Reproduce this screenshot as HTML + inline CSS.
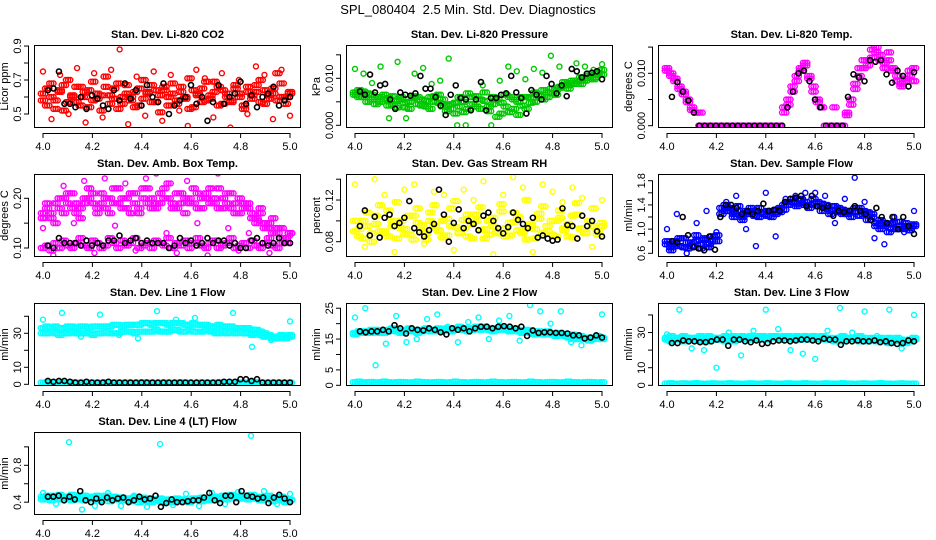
<!DOCTYPE html>
<html><head><meta charset="utf-8"><style>
body{margin:0;background:#fff;}
svg{display:block;font-family:"Liberation Sans",Arial,sans-serif;}
</style></head><body>
<svg id="chart" width="936" height="540" viewBox="0 0 936 540">
<rect width="936" height="540" fill="#fff"/>
<text x="468" y="14" text-anchor="middle" font-size="13">SPL_080404&#160; 2.5 Min. Std. Dev. Diagnostics</text>
</svg>
<script>
const xTicks=[4.0,4.2,4.4,4.6,4.8,5.0];
const xTickLabels=["4.0","4.2","4.4","4.6","4.8","5.0"];

const co2A=[.62,.55,.68,.58,.64,.52,.70,.60,.57,.66,.63,.54,.69,.59,.61,.72,.56,.65,.53,.60,.67,.58,.63,.55,.70,.62,.57,.64,.51,.66,.60,.68,.56,.63,.59,.71,.54,.62,.65,.58,.61,.69,.55,.64,.60,.57,.67,.62,.53,.66,.59,.63,.70,.56,.61,.65,.58,.68,.60,.62];
const co2B=[.58,.65,.60,.53,.63,.67,.57,.61,.66,.55,.60,.64,.58,.62,.52,.66,.61,.59,.68,.56,.62,.60,.54,.65,.59,.63,.67,.57,.61,.64,.55,.62,.58,.66,.60,.53,.64,.61,.57,.69,.59,.63,.66,.56,.62,.58,.65,.60,.55,.63,.61,.67,.57,.64,.59,.62,.74,.60,.56,.63];
const co2C=[.75,.47,.73,.50,.77,.45,.74,.48,.76,.88,.44,.72,.49,.75,.46,.73,.52,.43,.76,.71,.48,.74,.42,.70,.50,.78,.73,.47,.76,.49];
const co2Black=[.64,.65,.75,.56,.56,.54,.60,.53,.61,.59,.55,.53,.64,.58,.68,.59,.64,.55,.67,.60,.57,.68,.50,.55,.58,.60,.67,.56,.60,.46,.57,.67,.56,.60,.62,.69,.56,.61,.54,.60,.62,.66,.55,.58,.60];

const presA=[.007,.0075,.006,.0068,.0055,.006,.005,.0065,.0058,.0045,.0052,.006,.0038,.005,.0062,.0045,.0055,.004,.006,.005,.0065,.004,.003,.0045,.0025,.004,.005,.0035,.006,.004,.0055,.007,.003,.0045,.0055,.0025,.004,.006,.0035,.005,.0042,.006,.0058,.005,.0065,.0055,.007,.0068,.0075,.008,.0085,.0078,.009,.0095,.0088,.01,.0105,.0098,.011,.0108];
const presB=[.0065,.006,.0072,.005,.0065,.0045,.006,.0055,.0042,.0062,.0038,.0055,.0048,.0035,.0058,.006,.0042,.0052,.0035,.0062,.0048,.0055,.0042,.0035,.0048,.006,.0028,.0068,.0045,.0062,.0035,.0052,.004,.006,.0018,.0048,.0065,.0028,.0055,.0022,.006,.0035,.0048,.007,.0062,.0075,.006,.0078,.0065,.0082,.0092,.0085,.0095,.0088,.0102,.0095,.011,.0102,.0112,.0118];
const presC=[.012,.011,.009,.0125,.0015,.0135,.0015,.011,.0122,.0088,.0095,.0142,.0,.0,.0062,.0085,.0,.0095,.0125,.0115,.0098,.012,.0112,.0148,.0125,.009,.0132,.0125,.0118,.013];
const presBlack=[.0072,.0065,.0108,.007,.0085,.0088,.0055,.0035,.007,.0065,.0063,.0068,.0105,.0078,.0078,.006,.0042,.0022,.0065,.0085,.0058,.0055,.0032,.0055,.0092,.0032,.0058,.0058,.0065,.0068,.0105,.007,.0058,.0025,.0075,.0065,.0055,.0105,.0088,.0068,.0085,.0062,.012,.0115,.0102,.011,.0112,.0115,.0098];

const tempA=[.011,.0095,.0085,.0075,.006,.005,.003,.0025,0,0,0,0,0,0,0,0,0,0,0,0,0,0,0,0,0,0,0,0,.0035,.005,.0075,.0095,.011,.012,.0095,.0075,.005,.0035,0,0,0,0,0,.002,.005,.008,.011,.0125,.0115,.013,.015,.0135,.012,.014,.011,.0095,.008,.009,.0105,.0085];
const tempB=[.0105,.01,.009,.007,.0065,.0045,.0035,.0025,.0025,0,0,0,0,0,0,0,0,0,0,0,0,0,0,0,0,0,0,0,.0025,.004,.0065,.0085,.0105,.0115,.009,.0065,.0045,.0035,0,0,.0035,0,0,.0025,.004,.007,.0095,.011,.0125,.0145,.014,.0125,.011,.0125,.0105,.0085,.0075,.0085,.0095,.011];
const tempBlack=[.0055,.0083,.0065,.0048,.0025,0,0,0,0,0,0,0,0,0,0,0,0,0,0,0,0,.0035,.0065,.01,.0105,.0085,.005,.0035,0,0,0,0,.0055,.0098,.0092,.0085,.0125,.0122,.0125,.0098,.0082,.0105,.0095,.0075,.0102];

const ambA=[.17,.18,.16,.19,.20,.17,.21,.18,.19,.16,.20,.22,.19,.18,.21,.20,.17,.19,.22,.20,.18,.21,.19,.17,.20,.22,.18,.19,.21,.20,.23,.19,.18,.21,.20,.19,.22,.18,.20,.21,.19,.20,.22,.18,.19,.21,.17,.20,.19,.18,.17,.16,.18,.15,.14,.16,.13,.14,.12,.13];
const ambB=[.16,.19,.17,.15,.18,.20,.19,.21,.17,.18,.19,.20,.21,.17,.19,.18,.20,.22,.19,.18,.20,.17,.21,.18,.22,.19,.20,.18,.19,.22,.20,.18,.21,.19,.17,.20,.19,.21,.18,.20,.22,.19,.18,.20,.21,.18,.19,.17,.18,.19,.16,.15,.17,.14,.15,.13,.14,.12,.11,.13];
const ambC=[.10,.105,.095,.11,.10,.115,.105,.10,.11,.12,.105,.10,.115,.11,.10,.105,.12,.11,.10,.115,.105,.11,.12,.10,.105,.11,.10,.115,.11,.105,.12,.10,.11,.105,.115,.10,.11,.12,.105,.10,.11,.115,.10,.105,.11,.12,.10,.105,.11,.10,.115,.105,.10,.11,.12,.105,.10,.11,.12,.13];
const ambD=[.14,.085,.225,.15,.235,.09,.24,.145,.23,.095,.24,.25,.13,.09,.235,.15,.085,.25,.14,.095,.13,.155,.09,.14,.125];
const ambBlack=[.105,.10,.12,.11,.11,.11,.105,.115,.105,.11,.105,.115,.115,.125,.11,.115,.12,.11,.115,.11,.11,.11,.10,.105,.12,.11,.115,.105,.11,.12,.11,.115,.115,.105,.11,.10,.10,.115,.12,.11,.105,.11,.12,.11,.11];

const rhA=[.09,.085,.10,.095,.08,.105,.09,.088,.11,.095,.083,.10,.092,.087,.105,.098,.09,.082,.108,.095,.09,.1,.086,.112,.094,.089,.101,.085,.097,.106,.091,.083,.1,.095,.088,.109,.093,.086,.099,.104,.09,.082,.097,.092,.107,.088,.095,.1,.085,.103,.091,.097,.084,.106,.093,.089,.1,.095,.087,.098];
const rhB=[.1,.092,.083,.108,.088,.097,.115,.09,.085,.1,.118,.093,.087,.105,.082,.112,.096,.088,.1,.115,.091,.084,.102,.095,.119,.088,.093,.106,.083,.1,.113,.092,.087,.103,.09,.116,.085,.098,.108,.091,.088,.12,.095,.083,.102,.114,.09,.087,.1,.11,.093,.085,.105,.117,.092,.088,.1,.112,.09,.095];
const rhC=[.135,.075,.14,.125,.07,.13,.135,.078,.128,.125,.072,.13,.12,.138,.068,.125,.142,.132,.07,.135,.128,.118,.132,.122,.075,.12];
const rhBlack=[.095,.11,.086,.104,.084,.103,.106,.095,.098,.103,.119,.093,.089,.085,.091,.097,.13,.106,.08,.098,.111,.093,.1,.097,.091,.105,.108,.1,.093,.088,.094,.108,.101,.097,.093,.103,.084,.086,.083,.081,.082,.112,.096,.095,.083,.105,.095,.1,.09,.085];

const flowA=[.75,.7,.8,.72,.85,.68,.78,.9,.75,.82,.7,.88,.8,1.35,1.4,1.3,1.25,1.38,1.2,1.3,1.28,1.22,1.35,1.25,1.3,1.2,1.32,1.28,1.4,1.45,1.5,1.42,1.48,1.45,1.4,1.5,1.38,1.42,1.35,1.3,1.38,1.28,1.32,1.25,1.3,1.35,1.22,1.3,1.28,1.2,1.1,1.15,1.05,1.08,1.0,1.12,1.05,1.1,1.02,1.05];
const flowB=[.8,.65,.75,.85,.7,.78,.72,.8,.68,.85,.75,.8,.9,1.25,1.3,1.35,1.2,1.3,1.15,1.25,1.35,1.3,1.2,1.28,1.22,1.3,1.25,1.35,1.32,1.4,1.45,1.38,1.5,1.4,1.35,1.42,1.45,1.3,1.4,1.25,1.32,1.35,1.25,1.3,1.2,1.28,1.35,1.25,1.15,1.25,1.05,1.0,1.1,.95,1.1,1.0,1.0,1.05,.98,1.08];
const flowC=[1.0,1.25,.6,1.1,1.3,.95,1.45,1.55,1.0,.72,1.6,.88,1.5,1.55,1.6,1.6,1.55,1.1,1.5,1.85,1.45,.85,.75,1.2,.95,1.3];
const flowBlack=[.8,.78,1.2,.9,.7,.68,.65,.88,.66,1.2,1.4,1.4,1.35,1.25,1.3,1.25,1.3,1.42,1.3,1.32,1.3,1.45,1.5,1.52,1.55,1.38,1.55,1.38,1.35,1.38,1.22,1.3,1.28,1.3,1.38,1.3,1.25,1.15,1.35,1.2,1.1,1.2,1.0,1.2,1.05,.92];

const l1A=[33,34,33,34,33,33,34,34,33,34,34,33,34,34,34,34,34,35,35,34,35,35,35,35,36,36,35,36,36,36,35,36,36,36,35,35,36,35,35,35,34,34,35,34,34,34,33,33,33,33,32,32,31,30,29,28,28,29,28,29];
const l1B=[30,30,31,30,29,30,30,31,30,30,30,30,29,30,30,31,30,30,30,31,31,31,30,31,31,31,31,32,31,31,31,32,32,31,31,32,31,31,31,32,31,31,30,31,30,31,30,31,30,30,29,30,29,28,28,27,27,28,27,28];
const l1Low=[1,1.2,.8,1,1.1,.9,1,1.2,1,.8,1,1.1,1,.9,1,1.2,1,1,.8,1,1.1,1,.9,1,1.2,1,1,.8,1,1.1,1,.9,1,1.2,1,1,.8,1,1.1,1,.9,1,1.2,1,1,.8,1,1.1,1,.9,1,1.2,1,1,.8,1,1.1,1,.9,1];
const l1C=[38,42,28,41,29,27,43,38,39,30,42,22,26,37];
const l1Black=[2,1.5,2,2,1.5,1,1,1.5,1,1,1,1.5,1,1,1,1,1,1,1,1,1,1,1,1,1,1,1,1,1,1,1,1,1.5,1.5,1.5,3,3,2,3,1,1,1,1,1,1];

const l2A=[17,17.5,17,17.5,18,17.5,17,17.5,18,18.5,18,17.5,18,18.5,18,17.5,18,18.5,18,18,18.5,18,18.5,18,18.5,19,18.5,18,18.5,19,18.5,19,18.5,18,18.5,19,18.5,18,18.5,18,17.5,18,17.5,17,17.5,17,17.5,17,16.5,17,16.5,16,16.5,15.5,16,15.5,15,15.5,16,15.5];
const l2B=[16.5,17,17.5,17,17,18,17.5,17,17.5,18,17.5,17,17.5,18,17.5,17,17.5,18,17.5,17.5,18,17.5,18,17.5,18,18.5,18,17.5,18,18.5,18,18.5,18,17.5,18,18.5,18,17.5,18,17.5,17,17.5,17,16.5,17,16.5,17,16.5,16,16.5,16,15.5,15,15,15.5,15,14.5,15,15.5,15];
const l2C=[22,25,6.5,13.5,22.5,14,15,21.5,23,19,14,20.5,22,15,21,22.5,14.5,26,24,20,24,14,13,14.5,23];
const l2Black=[17.5,17.2,17.5,17.5,18,17.5,19.5,18.5,16.8,18.5,18,17.8,18.5,18,17.2,16.5,18.5,18,18.5,17.5,18.5,19,19,18.5,19,19.2,19,18.5,19,16,17.8,17,17.2,17.2,17,17,16.8,16.2,16.2,15.2,15.5,16.2,15.5];

const l3A=[27,28,26,27,28,27,26,27,28,27,28,27,26,27,28,27,28,27,28,27,28,27,28,28,27,28,28,27,28,28,27,28,27,28,27,28,27,28,27,27,26,27,28,27,26,27,28,27,26,27,26,27,26,27,26,27,26,25,26,27];
const l3B=[26,25,27,26,25,26,27,26,25,26,25,26,27,26,25,26,25,26,27,26,26,27,26,27,26,27,27,26,27,27,26,27,26,27,26,27,26,27,26,26,25,26,25,26,27,26,25,26,25,26,25,26,25,24,25,26,25,24,25,26];
const l3C=[29,43,21,20,10,30,17,31,43,32,20,18,15,31,44,30,42,28,43,21,40];
const l3Black=[24,24,25.5,25,25,24.5,24.5,25,26,26,22.5,26,26,25,24.5,25.5,23.5,24,25,25.5,25.5,25,25.5,26,26,25.5,25,26.5,26,26,23,25,25,25.5,25,25,25.5,24.5,25,24,23.5,24,25.5,25];

const l4A=[.46,.44,.47,.45,.43,.46,.44,.48,.45,.43,.47,.44,.46,.42,.45,.47,.44,.46,.43,.45,.42,.44,.46,.43,.45,.41,.43,.42,.44,.41,.43,.42,.44,.43,.41,.42,.44,.43,.45,.42,.44,.46,.43,.47,.45,.48,.46,.44,.47,.45,.48,.44,.46,.43,.47,.45,.43,.46,.44,.42];
const l4B=[.43,.47,.42,.45,.48,.43,.46,.42,.44,.47,.42,.45,.43,.47,.42,.44,.41,.43,.45,.42,.44,.41,.43,.40,.42,.44,.40,.43,.41,.39,.42,.40,.42,.41,.43,.40,.42,.44,.41,.43,.45,.42,.44,.45,.43,.46,.44,.47,.45,.43,.46,.44,.42,.45,.43,.41,.44,.42,.40,.43];
const l4C=[.5,.38,1.05,.32,.36,.5,.36,.47,.35,1.03,.37,.49,.36,.5,.38,.51,1.12,.52,.38,.49];
const l4Black=[.46,.46,.47,.42,.46,.43,.52,.42,.40,.44,.40,.45,.42,.44,.45,.40,.42,.46,.43,.44,.47,.35,.39,.43,.40,.40,.41,.42,.42,.45,.50,.42,.39,.47,.47,.40,.52,.47,.46,.44,.45,.39,.45,.48,.44,.40];

const panels=[
 {name:"co2",title:"Stan. Dev. Li-820 CO2",ylab:"Licor ppm",col:0,row:0,ymin:.4176,ymax:.906,ticks:[.5,.6,.7,.8,.9],labs:{".5":"0.5",".7":"0.7",".9":"0.9"},color:"#ff0000",series:[co2A,co2B],sparse:[co2C],black:co2Black},
 {name:"pressure",title:"Stan. Dev. Li-820 Pressure",ylab:"kPa",col:1,row:0,ymin:-.000574,ymax:.01709,ticks:[0,.005,.01,.015],labs:{"0":"0.000",".01":"0.010"},color:"#00c800",series:[presA,presB],sparse:[presC],black:presBlack},
 {name:"li820-temp",title:"Stan. Dev. Li-820 Temp.",ylab:"degrees C",col:2,row:0,ymin:-.00044,ymax:.0154,ticks:[0,.005,.01,.015],labs:{"0":"0.000",".01":"0.010"},color:"#ff00ff",series:[tempA,tempB],sparse:[],black:tempBlack},
 {name:"amb-temp",title:"Stan. Dev. Amb. Box Temp.",ylab:"degrees C",col:0,row:1,ymin:.0819,ymax:.2489,ticks:[.1,.15,.2],labs:{".1":"0.10",".2":"0.20"},color:"#ff00ff",series:[ambA,ambB,ambC],sparse:[ambD],black:ambBlack},
 {name:"gas-rh",title:"Stan. Dev. Gas Stream RH",ylab:"percent",col:1,row:1,ymin:.0653,ymax:.145,ticks:[.08,.1,.12,.14],labs:{".08":"0.08",".12":"0.12"},color:"#ffff00",series:[rhA,rhB],sparse:[rhC],black:rhBlack},
 {name:"sample-flow",title:"Stan. Dev. Sample Flow",ylab:"ml/min",col:2,row:1,ymin:.539,ymax:1.911,ticks:[.6,.8,1,1.2,1.4,1.6,1.8],labs:{".6":"0.6","1":"1.0","1.4":"1.4","1.8":"1.8"},color:"#0000ff",series:[flowA,flowB],sparse:[flowC],black:flowBlack},
 {name:"line1-flow",title:"Stan. Dev. Line 1 Flow",ylab:"ml/min",col:0,row:2,ymin:-1,ymax:47.8,ticks:[0,10,20,30,40],labs:{"0":"0","10":"10","30":"30"},color:"#00ffff",series:[l1A,l1B,l1Low],sparse:[l1C],black:l1Black},
 {name:"line2-flow",title:"Stan. Dev. Line 2 Flow",ylab:"ml/min",col:1,row:2,ymin:-.23,ymax:26.7,ticks:[0,5,10,15,20,25],labs:{"0":"0","5":"5","15":"15","25":"25"},color:"#00ffff",series:[l2A,l2B,l1Low],sparse:[l2C],black:l2Black},
 {name:"line3-flow",title:"Stan. Dev. Line 3 Flow",ylab:"ml/min",col:2,row:2,ymin:-.4,ymax:46.8,ticks:[0,10,20,30,40],labs:{"0":"0","10":"10","30":"30"},color:"#00ffff",series:[l3A,l3B,l1Low],sparse:[l3C],black:l3Black},
 {name:"line4-flow",title:"Stan. Dev. Line 4 (LT) Flow",ylab:"ml/min",col:0,row:3,ymin:.261,ymax:1.161,ticks:[.4,.6,.8,1.0],labs:{".4":"0.4",".8":"0.8"},color:"#00ffff",series:[l4A,l4B],sparse:[l4C],black:l4Black}
];

const NS="http://www.w3.org/2000/svg";
const svg=document.getElementById('chart');
function mk(tag,attrs,parent){const e=document.createElementNS(NS,tag);for(const k in attrs)e.setAttribute(k,attrs[k]);(parent||svg).appendChild(e);return e;}
const XMIN=3.9636,XMAX=5.0445;
function fmtKey(v){let s=String(v);if(s.startsWith("0.")&&v!==0)s=s.slice(1);return s;}

panels.forEach(p=>{
  const L=34+312*p.col,R=301+312*p.col,T=45+129*p.row,B=128+129*p.row;
  const sx=v=>L+(v-XMIN)/(XMAX-XMIN)*(R-L);
  const sy=v=>B-(v-p.ymin)/(p.ymax-p.ymin)*(B-T);
  const g=mk('g',{});
  
  
  const t=mk('text',{x:(L+R)/2,y:T-7,'text-anchor':'middle','font-size':'11','font-weight':'bold'},g);
  t.textContent=p.title;
  
  
  const clip=mk('clipPath',{id:'c'+p.name},g);
  mk('rect',{x:L,y:T,width:R-L,height:B-T},clip);
  const pts=mk('g',{'clip-path':'url(#c'+p.name+')',fill:'none','stroke-width':'1.4'},g);
  
  
  // dense series: each marker drawn as a small horizontal cluster to mimic overplotting
  p.series.forEach(arr=>{
    const n=arr.length;
    arr.forEach((v,i)=>{
      const cx=sx(4+i/(n-1)),cy=sy(v);
      [-2.2,0,2.2].forEach(dx=>{
        const c=mk('circle',{cx:cx+dx,cy:cy,r:2.5,stroke:p.color},pts);
        
        
      });
    });
  });
  p.sparse.forEach(arr=>{
    const n=arr.length;
    arr.forEach((v,i)=>{
      const c=mk('circle',{cx:sx(4+i/(n-1)),cy:sy(v),r:2.5,stroke:p.color},pts);
      
      
    });
  });
  const nb=p.black.length;
  p.black.forEach((v,i)=>{
    const c=mk('circle',{cx:sx(4.02+0.98*i/(nb-1)),cy:sy(v),r:2.5,stroke:'#000','stroke-width':'1.6'},pts);
    
    
  });
  const box=mk('rect',{x:L+.5,y:T+.5,width:R-L-1,height:B-T-1,fill:'none',stroke:'#000','stroke-width':'1'},g);
  
  
  mk('line',{x1:sx(xTicks[0]),x2:sx(xTicks[xTicks.length-1]),y1:B+5.5,y2:B+5.5,stroke:'#000'},g);
  xTicks.forEach((v,i)=>{
    mk('line',{x1:sx(v),x2:sx(v),y1:B+5,y2:B+10,stroke:'#000'},g);
    const tl=mk('text',{x:sx(v),y:B+22,'text-anchor':'middle','font-size':'11'},g);
    tl.textContent=xTickLabels[i];
    
    
  });
  const yl=L-5.5;
  mk('line',{x1:yl,x2:yl,y1:sy(p.ticks[0]),y2:sy(p.ticks[p.ticks.length-1]),stroke:'#000'},g);
  p.ticks.forEach(v=>{
    const y=sy(v);
    if(y<T-1||y>B+1)return;
    mk('line',{x1:L-10,x2:L-5,y1:y,y2:y,stroke:'#000'},g);
    const lab=p.labs[fmtKey(v)];
    if(lab){
      const tl=mk('text',{x:L-13,y:y,'text-anchor':'middle','font-size':'11',transform:'rotate(-90 '+(L-13)+' '+y+')'},g);
      tl.textContent=lab;
      
      
    }
  });
  const ya=mk('text',{x:L-26,y:(T+B)/2,'text-anchor':'middle','font-size':'11',transform:'rotate(-90 '+(L-26)+' '+((T+B)/2)+')'},g);
  ya.textContent=p.ylab;
  
  
});
</script>
</body></html>
